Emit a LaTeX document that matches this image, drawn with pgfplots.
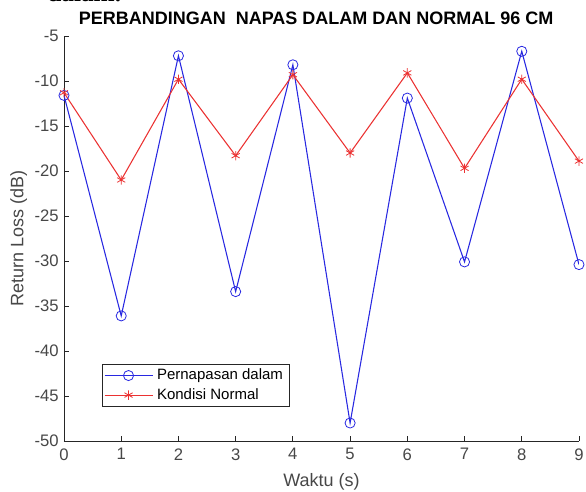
\documentclass[border=0pt]{standalone}
\usepackage{fontspec}
\setmainfont{Liberation Sans}
\newfontfamily\serifdoc{Liberation Serif}
\usepackage{pgfplots}
\pgfplotsset{compat=1.18}

\definecolor{axgray}{RGB}{38,38,38}
\definecolor{mblue}{RGB}{40,40,225}
\definecolor{mred}{RGB}{235,50,50}

\pgfplotstableread{
x  dalam  normal
0  -11.6  -11.3
1  -36.1  -21.0
2  -7.2   -9.8
3  -33.4  -18.3
4  -8.2   -9.3
5  -48.0  -18.0
6  -11.9  -9.1
7  -30.1  -19.7
8  -6.7   -9.8
9  -30.4  -18.9
}\datatable

\begin{document}
\begin{tikzpicture}
\begin{axis}[
    scale only axis,
    width=386.25pt, height=303.75pt,
    xmin=0, xmax=9, ymin=-50, ymax=-5,
    xtick={0,...,9},
    ytick={-50,-45,...,-5},
    axis x line*=bottom, axis y line*=left,
    axis line style={axgray, line width=0.6pt},
    tick style={axgray, line width=0.6pt},
    tick align=inside,
    major tick length=4pt,
    /pgf/number format/assume math mode=true,
    tick label style={font=\fontsize{12.5}{14}\selectfont, text=axgray!85!white},
    xticklabel style={yshift=-2pt},
    yticklabel style={xshift=-0.5pt},
    xlabel={Waktu (s)}, ylabel={Return Loss (dB)},
    label style={font=\fontsize{13.5}{15}\selectfont, text=axgray!85!white},
    xlabel style={at={([yshift=-34pt]axis description cs:0.5,0)}, anchor=base},
    ylabel style={at={([xshift=-30.5pt]axis description cs:0,0.5)}, anchor=base},
    title={\bfseries PERBANDINGAN\ \ NAPAS DALAM DAN NORMAL 96 CM},
    title style={font=\fontsize{13.5}{15}\selectfont,
        at={([xshift=-4pt,yshift=3pt]axis description cs:0.5,1)}, anchor=base},
    legend style={at={(0.073,0.19)}, anchor=north west, draw=axgray,
        line width=0.6pt, font=\fontsize{11.25}{13}\selectfont,
        inner sep=1.5pt, row sep=1pt,
        nodes={inner xsep=3pt}},
    legend cell align=left,
    legend image code/.code={
        \draw[mark repeat=2, mark phase=2, #1]
            plot coordinates {(0pt,0pt) (18pt,0pt) (36pt,0pt)};
    },
]
\addplot[mblue, line width=0.8pt, mark=o, mark size=3.8pt,
    mark options={line width=0.6pt}] table[x=x, y=dalam] {\datatable};
\addlegendentry{Pernapasan dalam}
\addplot[mred, line width=0.8pt, mark=asterisk, mark size=3.5pt,
    mark options={line width=0.6pt}] table[x=x, y=normal] {\datatable};
\addlegendentry{Kondisi Normal}
\end{axis}
\node[anchor=base west, font=\serifdoc\fontsize{19}{22}\selectfont\bfseries, inner sep=0pt]
    at (-12.75pt, 329.5pt) {dalam.};
\pgfresetboundingbox
\useasboundingbox (-48pt,-38.25pt) rectangle (391.5pt,330.75pt);
\end{tikzpicture}
\end{document}
